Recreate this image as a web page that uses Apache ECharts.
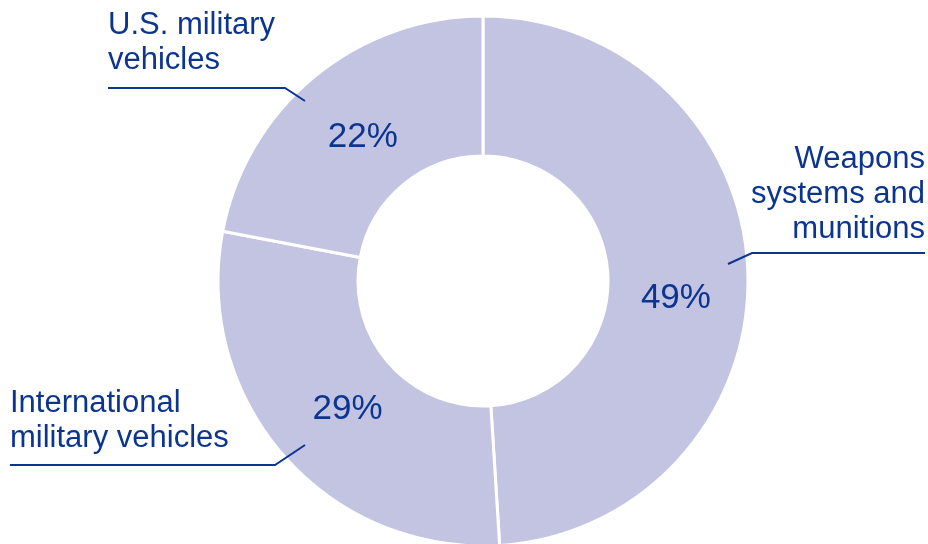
<!DOCTYPE html>
<html><head><meta charset="utf-8">
<script src="https://cdn.jsdelivr.net/npm/echarts@6/dist/echarts.min.js"></script>
<style>html,body{margin:0;padding:0;background:#fff}#c{width:928px;height:544px}</style>
</head><body><div id="c"></div>
<script>
const categories = ['Weapons\nsystems and\nmunitions', 'International\nmilitary vehicles', 'U.S. military\nvehicles'];
const values = [49, 29, 22];

const NAVY = '#0c3590';
const FILL = '#c3c4e2';
const FONT = '"Liberation Sans", Arial, sans-serif';
const CX = 483, CY = 281, R0 = 125, R1 = 265;

// label placement (layout only)
const outerLayout = [
  { x: 925, y: 247, align: 'right', pts: [[728, 264], [752, 253], [925, 253]] },
  { x: 10, y: 456, align: 'left', pts: [[305, 445], [275, 465], [10, 465]] },
  { x: 108, y: 78, align: 'left', pts: [[305, 101], [285, 88], [108, 88]] }
];
const innerShift = [[-5, 24], [13, -3], [6, 9]];

const data = categories.map((n, i) => ({ name: n, value: values[i] }));

const chart = echarts.init(document.getElementById('c'), null, { renderer: 'canvas' });
chart.setOption({
  animation: false,
  series: [
    {
      type: 'pie',
      center: [CX, CY],
      radius: [R0, R1],
      startAngle: 90,
      clockwise: true,
      silent: true,
      itemStyle: { color: FILL, borderColor: '#fff', borderWidth: 3 },
      label: {
        show: true, position: 'inside', formatter: '{c}%',
        color: NAVY, fontFamily: FONT, fontSize: 35
      },
      labelLine: { show: false },
      labelLayout: function (p) {
        const s = innerShift[p.dataIndex];
        return { dx: s[0], dy: s[1] };
      },
      data: data
    },
    {
      type: 'pie',
      center: [CX, CY],
      radius: [R0, R1],
      startAngle: 90,
      clockwise: true,
      silent: true,
      z: 5,
      itemStyle: { color: 'rgba(0,0,0,0)', borderWidth: 0 },
      label: {
        show: true, position: 'outside', formatter: '{b}', overflow: 'none',
        color: NAVY, fontFamily: FONT, fontSize: 31, lineHeight: 35
      },
      labelLine: { show: true, minTurnAngle: 0, maxSurfaceAngle: 180, lineStyle: { color: NAVY, width: 2 } },
      labelLayout: function (p) {
        const L = outerLayout[p.dataIndex];
        return { x: L.x, y: L.y, align: L.align, verticalAlign: 'bottom', labelLinePoints: L.pts };
      },
      data: data
    }
  ]
});
</script></body></html>
